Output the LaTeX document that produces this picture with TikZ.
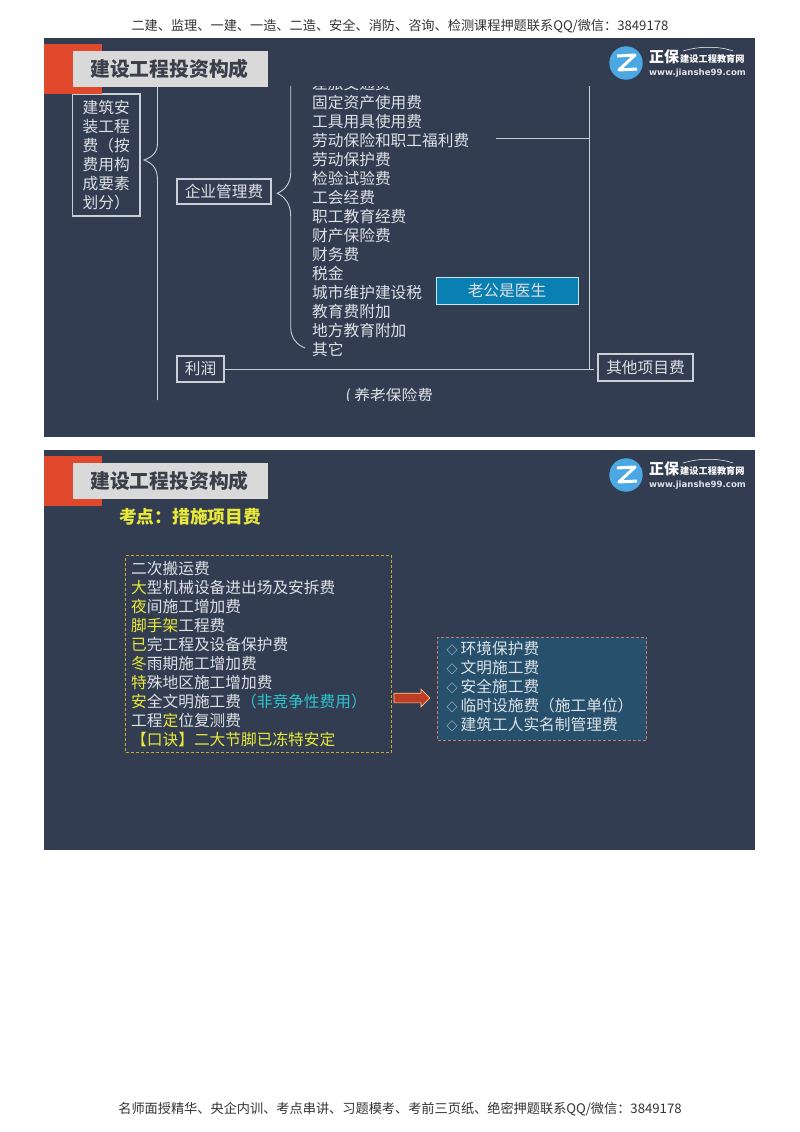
\documentclass[tikz,border=0pt]{standalone}
\usepackage{fontspec}
\setmainfont{Noto Sans CJK SC}
\newfontfamily\logofont{DejaVu Sans}
\usetikzlibrary{shapes.arrows}
\definecolor{panelbg}{HTML}{333D51}
\definecolor{redtab}{HTML}{E0492B}
\definecolor{greybar}{HTML}{D9D9D9}
\definecolor{titleink}{HTML}{3A3F4A}
\definecolor{lineink}{HTML}{C9CFD6}
\definecolor{listink}{HTML}{DDE1E6}
\definecolor{keyyellow}{HTML}{E8E83A}
\definecolor{noteteal}{HTML}{2BC4D0}
\definecolor{dashgold}{HTML}{D0A82A}
\definecolor{dashred}{HTML}{C87A66}
\definecolor{tealfill}{HTML}{26506C}
\definecolor{rhymefill}{HTML}{0A7FB2}
\definecolor{logoblue}{HTML}{4BA8E2}
\newcommand{\hl}[1]{\textcolor{keyyellow}{#1}}
\newcommand{\gem}{\makebox[14pt][l]{\fontsize{11}{19}\selectfont◇}}
\tikzset{
  listrow/.style={anchor=west,inner sep=0pt,text=listink,text height=13.8pt,text depth=1.9pt,font=\fontsize{15.7}{19}\selectfont},
  boxed/.style={draw=lineink,line width=1.1pt,text=listink,inner sep=0pt,font=\fontsize{15.7}{19}\selectfont},
  branch/.style={draw=lineink,line width=0.9pt},
  pagenote/.style={inner sep=0pt,text=black!80,font=\fontsize{13.18}{15}\selectfont},
  headerbar/.pic={
    \fill[redtab] (0,6) rectangle (58,56);
    \fill[greybar] (29,13) rectangle (224,49);
    \node[anchor=west,inner sep=0pt,text=titleink,font=\fontsize{19.8}{24}\bfseries\selectfont] (-title) at (46,31) {建设工程投资构成};
    \fill[logoblue] (582,25) circle (16.7);
    \draw[white,line width=3pt,line join=round] (573,18) -- (591,17) -- (575,32) -- (593,31);
    \node[anchor=west,inner sep=0pt,text=white,font=\fontsize{15}{18}\bfseries\selectfont] (-brand) at (605,19) {正保};
    \node[anchor=west,inner sep=0pt,text=white,font=\fontsize{9.2}{11}\bfseries\selectfont] (-school) at (636,21) {建设工程教育网};
    \node[anchor=west,inner sep=0pt,text=listink,font=\fontsize{8.6}{10}\logofont\bfseries\selectfont] (-web) at (605,35) {www.jianshe99.com};
    \draw[white,line width=0.5pt] (639,13) .. controls (655,8) and (675,8) .. (689,13);
  }
}
\begin{document}
\begin{tikzpicture}[x=1pt,y=-1pt]
\useasboundingbox (0,0) rectangle (800,1132);
\fill[white] (0,0) rectangle (800,1132);
\node[pagenote] (topnote) at (400,26) {二建、监理、一建、一造、二造、安全、消防、咨询、检测课程押题联系QQ/微信：3849178};
\node[pagenote] (footnote) at (400,1109) {名师面授精华、央企内训、考点串讲、习题模考、考前三页纸、绝密押题联系QQ/微信：3849178};
% first slide
\fill[panelbg] (44,38) rectangle (755,437);
\begin{scope}
\clip (44,86) rectangle (755,400);
\foreach \txt [count=\i] in {差旅交通费,固定资产使用费,工具用具使用费,劳动保险和职工福利费,劳动保护费,检验试验费,工会经费,职工教育经费,财产保险费,财务费,税金,城市维护建设税,教育费附加,地方教育附加,其它}
  \node[listrow] (fee\i) at (312,65+19*\i) {\txt};
\node[listrow] (pension) at (345.5,396) {(\hspace{3.5pt}养老保险费};
\end{scope}
\node[boxed,minimum width=67.5,minimum height=122,align=left] (install) at (106.2,155) {建筑安\\装工程\\费（按\\费用构\\成要素\\划分）};
\node[boxed,minimum width=94,minimum height=25] (manage) at (224,191.5) {企业管理费};
\node[boxed,minimum width=47,minimum height=26] (profit) at (200.5,369) {利润};
\node[boxed,minimum width=95,minimum height=27] (other) at (645.5,367.5) {其他项目费};
\node[boxed,fill=rhymefill,draw=cyan!25!white,line width=0.7pt,minimum width=142,minimum height=27] (rhyme) at (507,290.5) {老公是医生};
\coordinate (braceAtop) at (157.5,86);
\coordinate (braceAtip) at (144,160);
\coordinate (braceAend) at (157.5,400);
\draw[branch] (braceAtop) -- (157.5,143) .. controls (157.5,153) and (152,157) .. (braceAtip) .. controls (152,163) and (157.5,168) .. (157.5,180) -- (braceAend);
\coordinate (braceBtop) at (290.7,86);
\coordinate (braceBtip) at (277.3,193.3);
\draw[branch] (braceBtop) -- (290.7,173) .. controls (290.7,183) and (285,190) .. (braceBtip) .. controls (285,197) and (290.7,204) .. (290.7,216) -- (290.7,328) .. controls (291,338) and (297,345) .. (305,348);
\coordinate (trunkTop) at (589.5,86);
\coordinate (trunkEnd) at (589.5,370);
\coordinate (welfareEnd) at (496,138.5);
\draw[branch] (trunkTop) -- (trunkEnd);
\draw[branch] (welfareEnd) -- (welfareEnd -| trunkTop);
\draw[branch,shorten >=3pt] (profit.east) -- (profit.east -| other.west);
\pic (barA) at (44,38) {headerbar};
% second slide
\fill[panelbg] (44,450) rectangle (755,850);
\pic (barB) at (44,450) {headerbar};
\node[anchor=west,inner sep=0pt,text=keyyellow,font=\fontsize{17.7}{21}\bfseries\selectfont] (examtitle) at (119,517) {考点：措施项目费};
\node[draw=dashgold,line width=1pt,dash pattern=on 3pt off 2pt,minimum width=265.5,minimum height=197,inner sep=0pt] (causes) at (258.7,654.3) {};
\foreach \txt [count=\i] in {二次搬运费,\hl{大}型机械设备进出场及安拆费,\hl{夜}间施工增加费,\hl{脚手架}工程费,\hl{已}完工程及设备保护费,\hl{冬}雨期施工增加费,\hl{特}殊地区施工增加费,\hl{安}全文明施工费\textcolor{noteteal}{（非竞争性费用）},工程\hl{定}位复测费,\hl{【口诀】二大节脚已冻特安定}}
  \node[listrow] (cause\i) at (131,550+19*\i) {\txt};
\node[fill=tealfill,draw=dashred,line width=1pt,dash pattern=on 3pt off 2pt,minimum width=209,minimum height=103,inner sep=0pt] (safety) at (542.3,688.5) {};
\foreach \txt [count=\i] in {环境保护费,文明施工费,安全施工费,临时设施费（施工单位）,建筑工人实名制管理费}
  \node[listrow] (safe\i) at (446.5,630+19*\i) {\gem\txt};
\node[single arrow,fill=redtab!85!black,draw=orange!45!white,line width=0.7pt,minimum width=17,minimum height=36,single arrow head extend=4pt,inner ysep=4.5pt,inner xsep=0pt,shape border rotate=0] (flow) at (409.5,698) {};
\end{tikzpicture}
\end{document}
